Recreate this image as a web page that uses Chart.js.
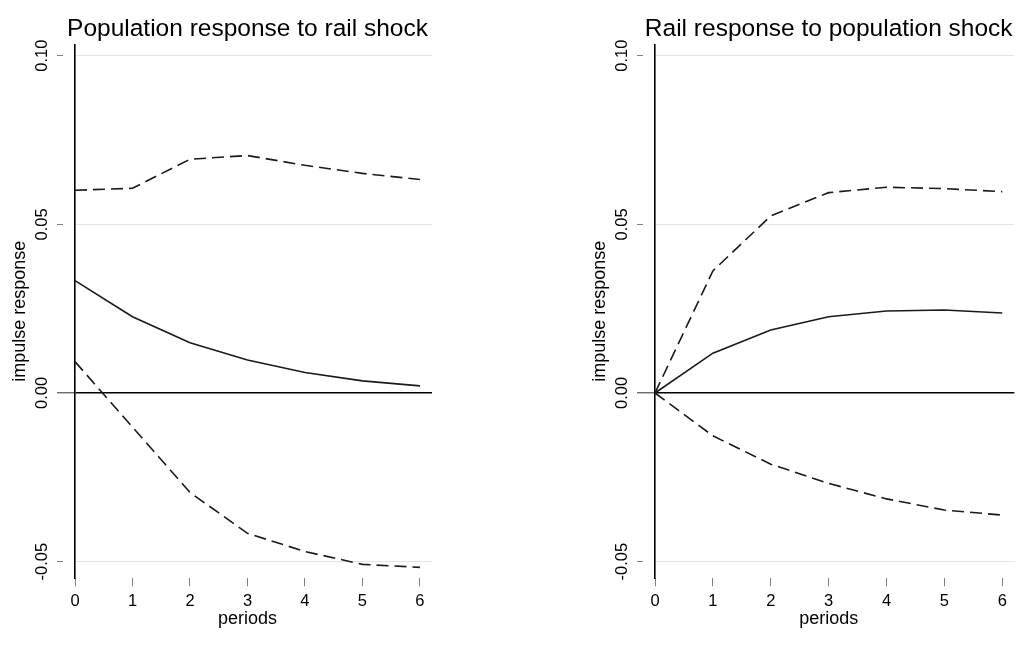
<!DOCTYPE html>
<html>
<head>
<meta charset="utf-8">
<script src="https://cdn.jsdelivr.net/npm/chart.js@4/dist/chart.umd.min.js"></script>
<style>
  html, body { margin: 0; padding: 0; background: #fff; }
  #wrap { position: relative; width: 1019px; height: 653px; overflow: hidden; }
  canvas { position: absolute; top: 0; }
  #popPanel { left: 0; }
  #railPanel { left: 580px; }
</style>
</head>
<body>
<div id="wrap">
  <canvas id="popPanel" width="445" height="653"></canvas>
  <canvas id="railPanel" width="439" height="653"></canvas>
</div>
<script>
// Horizon (periods after the shock) and y-axis tick values
const periods = [0, 1, 2, 3, 4, 5, 6];
const yTickValues = [-0.05, 0, 0.05, 0.10];

// Population response to a rail shock: point estimate and confidence bounds
const popResponse = [0.0333, 0.0226, 0.0149, 0.0098, 0.0061, 0.0036, 0.0021];
const popUpper    = [0.0601, 0.0607, 0.0693, 0.0704, 0.0675, 0.0651, 0.0633];
const popLower    = [0.0093, -0.0101, -0.0295, -0.0416, -0.0470, -0.0508, -0.0517];

// Rail response to a population shock: point estimate and confidence bounds
const railResponse = [0, 0.0118, 0.0187, 0.0226, 0.0243, 0.0246, 0.0237];
const railUpper    = [0, 0.0362, 0.0525, 0.0594, 0.0610, 0.0606, 0.0597];
const railLower    = [0, -0.0127, -0.0211, -0.0268, -0.0314, -0.0347, -0.0362];

const FONT = '"Liberation Sans", Arial, Helvetica, sans-serif';
Chart.defaults.font.family = FONT;
Chart.defaults.color = '#000';

const toPoints = ys => periods.map((x, i) => ({ x: x, y: ys[i] }));

// Centre the panel title and the x-axis title over the plot plus the y-axis margin
const shiftTitles = {
  id: 'shiftTitles',
  afterLayout(chart, args, opts) {
    const a = chart.chartArea;
    const c = (a.left - opts.shift + a.right) / 2;
    const t = chart.titleBlock;
    if (t) { t.left = c - 200; t.right = c + 200; }
    const xs = chart.scales.x;
    if (xs) { xs.left = a.left - opts.shift; }
  }
};

function drawPanel(id, titleText, mid, upper, lower, padRight) {
  const series = (data, dashed) => ({
    data: toPoints(data),
    borderColor: '#1a1a1a',
    borderWidth: 1.6,
    borderDash: dashed ? [12, 6] : [],
    pointRadius: 0,
    pointHoverRadius: 0,
    tension: 0,
    fill: false
  });
  const isZero = c => c.tick && c.tick.value === 0;
  return new Chart(document.getElementById(id), {
    type: 'line',
    data: { datasets: [series(upper, true), series(mid, false), series(lower, true)] },
    options: {
      responsive: false,
      animation: false,
      devicePixelRatio: 1,
      layout: { padding: { left: 0, right: padRight, top: 0, bottom: 0 } },
      plugins: {
        legend: { display: false },
        tooltip: { enabled: false },
        title: {
          display: true, text: titleText, color: '#000',
          font: { size: 24.5, weight: 'normal' },
          padding: { top: 14.3, bottom: 0.6 }
        },
        shiftTitles: { shift: 12 }
      },
      scales: {
        x: {
          type: 'linear', min: 0, max: 6.21,
          afterBuildTicks: s => { s.ticks = periods.map(v => ({ value: v })); },
          afterFit: s => { s.height = 74.7; },
          border: { display: false },
          grid: { drawOnChartArea: false, drawTicks: true, tickLength: 8, tickColor: '#808080', tickWidth: 1 },
          ticks: { padding: 5.5, font: { size: 16.5 }, color: '#000', maxRotation: 0, autoSkip: false },
          title: { display: true, text: 'periods', color: '#000', font: { size: 18 }, padding: { top: 0, bottom: 23 } }
        },
        y: {
          type: 'linear', min: -0.05494, max: 0.10338,
          afterBuildTicks: s => { s.ticks = yTickValues.map(v => ({ value: v })); },
          afterFit: s => { s.width = 75; },
          border: { display: true, color: '#000', width: 1.6 },
          grid: {
            color: c => isZero(c) ? '#000' : '#e4e4e4',
            lineWidth: c => isZero(c) ? 1.6 : 1,
            tickLength: 18,
            tickColor: c => isZero(c) ? '#333' : '#808080',
            tickWidth: 1,
            tickBorderDash: c => isZero(c) ? [] : [6, 12]
          },
          ticks: {
            padding: -4, crossAlign: 'center', minRotation: 90, maxRotation: 90,
            font: { size: 16.5 }, color: '#000', autoSkip: false,
            callback: v => Number(v).toFixed(2)
          },
          title: { display: true, text: 'impulse response', color: '#000', font: { size: 18 }, padding: { top: 9.4, bottom: 0 } }
        }
      }
    },
    plugins: [shiftTitles]
  });
}

drawPanel('popPanel', 'Population response to rail shock', popResponse, popUpper, popLower, 13);
drawPanel('railPanel', 'Rail response to population shock', railResponse, railUpper, railLower, 4.6);
</script>
</body>
</html>
